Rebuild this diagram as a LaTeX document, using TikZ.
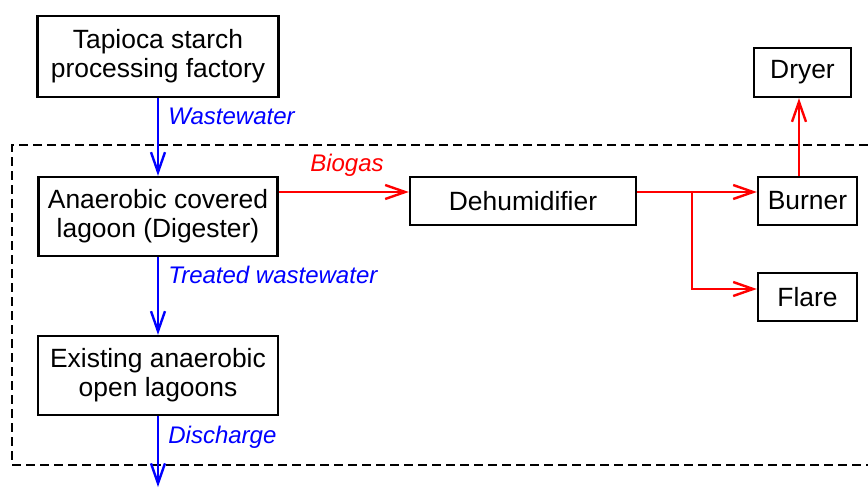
\documentclass[tikz,border=0pt]{standalone}
\usepackage{fontspec}
\setmainfont{Liberation Sans}
\usetikzlibrary{arrows.meta}

\begin{document}
\begin{tikzpicture}[x=0.5pt, y=-0.5pt,
	unit/.style={draw, line width=1.2pt, inner sep=0pt, align=center,
		font=\fontsize{13.2}{14.5}\selectfont},
	water/.style={blue, line width=1.2pt,
		-{Straight Barb[length=10pt, width=7pt, line width=1.2pt]}},
	gas/.style={red, line width=1.2pt,
		-{Straight Barb[length=10pt, width=7pt, line width=1.2pt]}},
	flowlabel/.style={inner sep=0pt, font=\fontsize{12}{14}\selectfont\itshape}]

\useasboundingbox (0,0) rectangle (868,488);

%project boundary
\draw[line width=0.9pt, dash pattern=on 4.5pt off 2.5pt]
	(868,145) -- (12,145) -- (12,465) -- (868,465);

%units
\node[unit, minimum width=120.5pt, minimum height=40.5pt] (factory) at (158,56.5)
	{Tapioca starch\\processing factory};
\node[unit, minimum width=119.5pt, minimum height=39.5pt] (lagoon) at (158,216.5)
	{Anaerobic covered\\lagoon (Digester)};
\node[unit, minimum width=120pt, minimum height=39.5pt] (existing) at (158,375.5)
	{Existing anaerobic\\open lagoons};
\node[unit, minimum width=113pt, minimum height=24pt] (dehum) at (523,201) {Dehumidifier};
\node[unit, minimum width=49.5pt, minimum height=24pt] (burner) at (807.5,201) {Burner};
\node[unit, minimum width=49.5pt, minimum height=24pt] (flare) at (807.5,297) {Flare};
\node[unit, minimum width=48.5pt, minimum height=24.5pt] (dryer) at (802.5,72.5) {Dryer};

%helper points
\coordinate (gasline) at (0,192);
\coordinate (split) at (692,192);
\coordinate (flarein) at (0,289);
\coordinate (riser) at (799,0);
\coordinate (outlet) at (158,487);

%water flow
\draw[water] (factory.south) -- (lagoon.north);
\draw[water] (lagoon.south) -- (existing.north);
\draw[water] (existing.south) -- (outlet);
\node[flowlabel, blue, anchor=west] (ww) at (168,116) {Wastewater};
\node[flowlabel, blue, anchor=west] (tww) at (168,275) {Treated wastewater};
\node[flowlabel, blue, anchor=west] (dis) at (168,437) {Discharge};

%biogas flow
\draw[gas] (lagoon.east |- gasline) -- (dehum.west |- gasline);
\node[flowlabel, red] (bg) at (347,165) {Biogas};
\draw[gas] (dehum.east |- gasline) -- (burner.west |- gasline);
\draw[gas] (split) |- (flare.west |- flarein);
\draw[gas] (burner.north -| riser) -- (dryer.south -| riser);

\end{tikzpicture}
\end{document}
